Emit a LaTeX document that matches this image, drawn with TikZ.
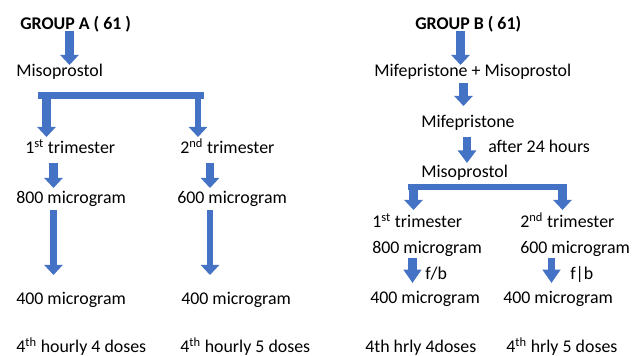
\documentclass[tikz,border=0pt]{standalone}
\usepackage{fontspec}
\setmainfont{Carlito}
\usetikzlibrary{arrows.meta}
\definecolor{boxblue}{HTML}{4472C4}
\tikzset{
  txt/.style={anchor=base west,inner sep=0pt,font=\fontsize{13.4}{16}\selectfont},
  head/.style={txt,font=\fontsize{13.4}{16}\selectfont\bfseries},
  bigarrow/.style={boxblue,line width=6.4pt,-{Triangle[width=13.5pt,length=7.5pt]}},
  bracketbar/.style={boxblue,line width=5.2pt}
}
\begin{document}
\begin{tikzpicture}[x=0.75pt,y=-0.75pt]
  \useasboundingbox (0,0) rectangle (636,356);
  \node[head] (grpA) at (20,30) {GROUP A ( 61 )};
  \node[txt] (misoA) at (16,77) {Misoprostol};
  \node[txt] (triA1) at (25,154) {1\textsuperscript{st} trimester};
  \node[txt] (triA2) at (180,154) {2\textsuperscript{nd} trimester};
  \node[txt] (doseA1) at (16,204) {800 microgram};
  \node[txt] (doseA2) at (177,204) {600 microgram};
  \node[txt] (nextA1) at (16,305) {400 microgram};
  \node[txt] (nextA2) at (181,305) {400 microgram};
  \node[txt] (hrA1) at (16,353) {4\textsuperscript{th} hourly 4 doses};
  \node[txt] (hrA2) at (180,353) {4\textsuperscript{th} hourly 5 doses};

  \node[head] (grpB) at (415,30) {GROUP B ( 61)};
  \node[txt] (comboB) at (374,77) {Mifepristone + Misoprostol};
  \node[txt] (mifeB) at (421,128) {Mifepristone};
  \node[txt] (waitB) at (488,153) {after 24 hours};
  \node[txt] (misoB) at (421,178) {Misoprostol};
  \node[txt] (triB1) at (372,228) {1\textsuperscript{st} trimester};
  \node[txt] (triB2) at (520,228) {2\textsuperscript{nd} trimester};
  \node[txt] (doseB1) at (372,254) {800 microgram};
  \node[txt] (doseB2) at (520,254) {600 microgram};
  \node[txt] (fbB1) at (425,280) {f/b};
  \node[txt] (fbB2) at (570,280) {f|b};
  \node[txt] (nextB1) at (370,304) {400 microgram};
  \node[txt] (nextB2) at (503,304) {400 microgram};
  \node[txt] (hrB1) at (365,353) {4th hrly 4doses};
  \node[txt] (hrB2) at (506,353) {4\textsuperscript{th} hrly 5 doses};

  \coordinate (gA) at (69.5,31);   \coordinate (gAe) at (69.5,65);
  \coordinate (barA1) at (38,95.5); \coordinate (barA2) at (204,95.5);
  \coordinate (legA1) at (46.5,95.5); \coordinate (legA1e) at (46.5,137);
  \coordinate (legA2) at (198,95.5); \coordinate (legA2e) at (198,137);
  \coordinate (tA1) at (53.5,163); \coordinate (tA1e) at (53.5,188);
  \coordinate (tA2) at (210,163);  \coordinate (tA2e) at (210,188);
  \coordinate (dA1) at (53.5,210); \coordinate (dA1e) at (53.5,275);
  \coordinate (dA2) at (210,210);  \coordinate (dA2e) at (210,275);

  \coordinate (gB) at (460.5,31);  \coordinate (gBe) at (460.5,65);
  \coordinate (cB) at (463.5,83);  \coordinate (cBe) at (463.5,106);
  \coordinate (mB) at (467,137);   \coordinate (mBe) at (467,163);
  \coordinate (barB1) at (408,187); \coordinate (barB2) at (567,187);
  \coordinate (legB1) at (413.5,187); \coordinate (legB1e) at (413.5,210);
  \coordinate (legB2) at (562.5,187); \coordinate (legB2e) at (562.5,210);
  \coordinate (fB1) at (412.5,258); \coordinate (fB1e) at (412.5,283);
  \coordinate (fB2) at (551.5,258); \coordinate (fB2e) at (551.5,283);

  \draw[bigarrow] (gA) -- (gAe);
  \draw[bracketbar] (barA1) -- (barA2);
  \draw[bigarrow] (legA1) -- (legA1e);
  \draw[bigarrow,line width=5pt] (legA2) -- (legA2e);
  \draw[bigarrow] (tA1) -- (tA1e);
  \draw[bigarrow] (tA2) -- (tA2e);
  \draw[bigarrow,line width=5.5pt] (dA1) -- (dA1e);
  \draw[bigarrow,line width=5pt] (dA2) -- (dA2e);

  \draw[bigarrow] (gB) -- (gBe);
  \draw[bigarrow] (cB) -- (cBe);
  \draw[bigarrow,-{Triangle[width=13.5pt,length=9.5pt]}] (mB) -- (mBe);
  \draw[bracketbar] (barB1) -- (barB2);
  \draw[bigarrow] (legB1) -- (legB1e);
  \draw[bigarrow] (legB2) -- (legB2e);
  \draw[bigarrow,-{Triangle[width=13pt,length=10pt]}] (fB1) -- (fB1e);
  \draw[bigarrow,line width=5.5pt,-{Triangle[width=13pt,length=10pt]}] (fB2) -- (fB2e);
\end{tikzpicture}
\end{document}
